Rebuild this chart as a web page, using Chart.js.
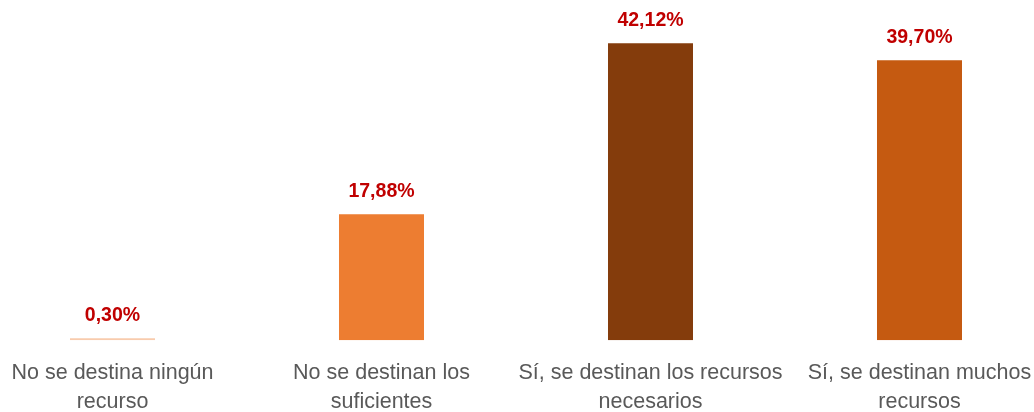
<!DOCTYPE html>
<html>
<head>
<meta charset="utf-8">
<script src="https://cdn.jsdelivr.net/npm/chart.js@4/dist/chart.umd.min.js"></script>
<style>
html,body{margin:0;padding:0;background:#fff;overflow:hidden;width:1034px;height:412px;}
#wrap{position:absolute;left:-22px;top:0;width:1076px;height:412px;}
</style>
</head>
<body>
<div id="wrap"><canvas id="c"></canvas></div>
<script>
const categories = [
  ["No se destina ningún", "recurso"],
  ["No se destinan los", "suficientes"],
  ["Sí, se destinan los recursos", "necesarios"],
  ["Sí, se destinan muchos", "recursos"]
];
const values = [0.30, 17.88, 42.12, 39.70];
const valueLabels = ["0,30%", "17,88%", "42,12%", "39,70%"];
const barColors = ["#F8CBAD", "#ED7D31", "#843C0C", "#C55A11"];

const valueLabelPlugin = {
  id: 'valueLabels',
  afterDatasetsDraw(chart) {
    const ctx = chart.ctx;
    const meta = chart.getDatasetMeta(0);
    ctx.save();
    ctx.font = 'bold 19.5px "Liberation Sans", Arial, sans-serif';
    ctx.fillStyle = '#C00000';
    ctx.textAlign = 'center';
    ctx.textBaseline = 'alphabetic';
    meta.data.forEach((bar, i) => {
      ctx.fillText(valueLabels[i], bar.x, bar.y - 17);
    });
    ctx.restore();
  }
};

new Chart(document.getElementById('c'), {
  type: 'bar',
  data: {
    labels: categories,
    datasets: [{
      data: values,
      backgroundColor: barColors,
      borderWidth: 0,
      categoryPercentage: 1,
      barPercentage: 0.316
    }]
  },
  options: {
    responsive: true,
    maintainAspectRatio: false,
    animation: false,
    layout: { padding: { top: 23, bottom: -23, left: 0, right: 0 } },
    plugins: { legend: { display: false }, tooltip: { enabled: false } },
    scales: {
      x: {
        grid: { display: false, drawTicks: false },
        border: { display: false },
        ticks: {
          color: '#595959',
          font: { family: '"Liberation Sans", Arial, sans-serif', size: 21.5, lineHeight: 1.32 },
          padding: 19,
          maxRotation: 0,
          autoSkip: false
        }
      },
      y: {
        display: false,
        min: 0,
        max: 45
      }
    }
  },
  plugins: [valueLabelPlugin]
});
</script>
</body>
</html>
